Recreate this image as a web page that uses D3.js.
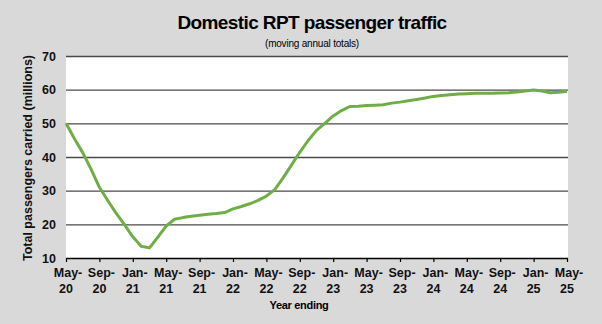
<!DOCTYPE html>
<html><head><meta charset="utf-8">
<script src="https://cdn.jsdelivr.net/npm/d3@7"></script>
<style>
html,body{margin:0;padding:0;background:#d9d9d9;}
svg{display:block;font-family:"Liberation Sans",Arial,sans-serif;}
</style></head>
<body>
<svg id="chart" width="602" height="324"></svg>
<script>
// Monthly periods (year ending) May-20 .. May-25
const months = ["May-20","Jun-20","Jul-20","Aug-20","Sep-20","Oct-20","Nov-20","Dec-20",
"Jan-21","Feb-21","Mar-21","Apr-21","May-21","Jun-21","Jul-21","Aug-21","Sep-21","Oct-21","Nov-21","Dec-21",
"Jan-22","Feb-22","Mar-22","Apr-22","May-22","Jun-22","Jul-22","Aug-22","Sep-22","Oct-22","Nov-22","Dec-22",
"Jan-23","Feb-23","Mar-23","Apr-23","May-23","Jun-23","Jul-23","Aug-23","Sep-23","Oct-23","Nov-23","Dec-23",
"Jan-24","Feb-24","Mar-24","Apr-24","May-24","Jun-24","Jul-24","Aug-24","Sep-24","Oct-24","Nov-24","Dec-24",
"Jan-25","Feb-25","Mar-25","Apr-25","May-25"];
// Total passengers carried (millions), moving annual totals
const passengers = [50.0,45.5,41.3,36.4,31.0,27.1,23.3,19.9,
16.3,13.5,13.0,16.2,19.5,21.5,22.0,22.4,22.7,23.0,23.2,23.5,
24.6,25.3,26.1,27.1,28.4,30.3,33.8,37.6,41.4,44.9,47.9,50.0,
52.2,53.8,55.0,55.1,55.3,55.4,55.5,56.0,56.3,56.7,57.1,57.5,
58.0,58.3,58.5,58.7,58.8,58.9,58.9,58.9,59.0,59.1,59.3,59.6,
59.9,59.6,59.1,59.2,59.5];
const tickMonths = ["May-20","Sep-20","Jan-21","May-21","Sep-21","Jan-22","May-22","Sep-22",
"Jan-23","May-23","Sep-23","Jan-24","May-24","Sep-24","Jan-25","May-25"];
const yTicks = [10,20,30,40,50,60,70];
const title = "Domestic RPT passenger traffic";
const subtitle = "(moving annual totals)";
const yTitle = "Total passengers carried (millions)";
const xTitle = "Year ending";

const svg = d3.select("#chart");
const L = 66, R = 567, T = 56, B = 258;
const x = d3.scalePoint().domain(months).range([L, R]);
const y = d3.scaleLinear().domain([10, 70]).range([B, T]);

svg.append("rect").attr("width",602).attr("height",324).attr("fill","#d9d9d9");
svg.append("rect").attr("x",L).attr("y",T).attr("width",R-L+1).attr("height",B-T).attr("fill","#ffffff");

// gridlines
svg.append("g").selectAll("line").data(yTicks.filter(d=>d>10)).join("line")
  .attr("x1",L).attr("x2",R+1).attr("y1",d=>y(d)+0.5).attr("y2",d=>y(d)+0.5)
  .attr("stroke","#4a4a4a").attr("stroke-width",1.3);

// y tick labels
svg.append("g").selectAll("text").data(yTicks).join("text")
  .attr("x",56).attr("y",d=>y(d)+4.5).attr("text-anchor","end")
  .attr("font-size","12.5px").attr("font-weight","bold").attr("fill","#111")
  .text(d=>d);

// x axis
const xAxis = d3.axisBottom(x).tickValues(tickMonths).tickSize(4).tickFormat("");
const gx = svg.append("g").attr("transform",`translate(0,${B})`).call(xAxis);
gx.select(".domain").attr("stroke","#000").attr("stroke-width",1.3).attr("d",`M${L},0.5H${R+1}`);
gx.selectAll(".tick line").attr("stroke","#000").attr("stroke-width",1.2);

const lab = svg.append("g").selectAll("g").data(tickMonths).join("g")
  .attr("transform",d=>`translate(${x(d)},0)`);
lab.append("text").attr("y",277).attr("x",2).attr("text-anchor","middle")
  .attr("font-size","12.5px").attr("font-weight","bold").attr("fill","#111")
  .text(d=>d.split("-")[0]+"-");
lab.append("text").attr("y",293).attr("text-anchor","middle")
  .attr("font-size","12.5px").attr("font-weight","bold").attr("fill","#111")
  .text(d=>d.split("-")[1]);

// line
svg.append("path").datum(passengers)
  .attr("fill","none").attr("stroke","#70ad47").attr("stroke-width",3)
  .attr("stroke-linejoin","round")
  .attr("d", d3.line().x((d,i)=>x(months[i])).y(d=>y(d)));

// titles
svg.append("text").attr("x",312).attr("y",29).attr("text-anchor","middle")
  .attr("font-size","19px").attr("font-weight","bold").attr("letter-spacing","-0.6px").attr("fill","#000")
  .text(title);
svg.append("text").attr("x",312).attr("y",47).attr("text-anchor","middle")
  .attr("font-size","10px").attr("fill","#000").attr("letter-spacing","-0.2px")
  .text(subtitle);
svg.append("text").attr("x",299).attr("y",309).attr("text-anchor","middle")
  .attr("font-size","11px").attr("font-weight","bold").attr("letter-spacing","-0.3px").attr("fill","#000")
  .text(xTitle);
svg.append("text").attr("transform","translate(32,158) rotate(-90)").attr("text-anchor","middle")
  .attr("font-size","12.5px").attr("font-weight","bold").attr("fill","#111")
  .text(yTitle);
</script>
</body></html>
